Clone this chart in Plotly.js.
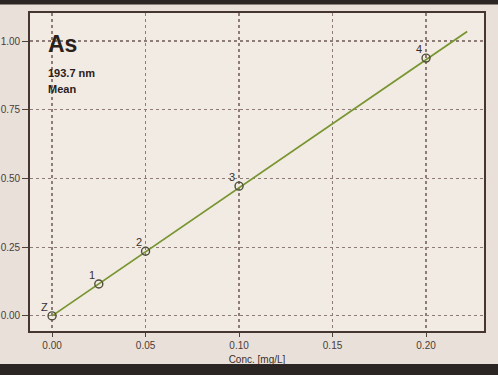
<!DOCTYPE html>
<html>
<head>
<meta charset="utf-8">
<script src="https://cdn.plot.ly/plotly-3.0.1.min.js"></script>
<style>
html,body{margin:0;padding:0;background:#e9e1d9;}
#chart{width:498px;height:375px;}
</style>
</head>
<body>
<div id="chart"></div>
<script>
// Calibration standards
const stdLabels = ["Z", "1", "2", "3", "4"];
const stdConc = [0.0, 0.025, 0.05, 0.10, 0.20];
const stdSignal = [0.0, 0.116, 0.235, 0.472, 0.938];
// Calibration line end points
const fitConc = [0.0, 0.222];
const fitSignal = [0.0, 1.035];
// Axis ticks
const xTicks = [0.00, 0.05, 0.10, 0.15, 0.20];
const xTickText = ["0.00", "0.05", "0.10", "0.15", "0.20"];
const yTicks = [0.00, 0.25, 0.50, 0.75, 1.00];
const yTickText = ["0.00", "0.25", "0.50", "0.75", "1.00"];

const FONT = "Liberation Sans, Arial, sans-serif";
const tickFont = {family: FONT, size: 10, color: "#4a3c37"};

const traces = [
  {
    x: fitConc, y: fitSignal, mode: "lines", type: "scatter",
    line: {color: "#789530", width: 1.8},
    hoverinfo: "skip", showlegend: false
  },
  {
    x: stdConc, y: stdSignal, mode: "markers", type: "scatter",
    marker: {symbol: "circle-open", size: 8, color: "#4f4d3a", line: {width: 1.4, color: "#4f4d3a"}},
    showlegend: false
  }
];

const pointLabels = stdLabels.map((t, i) => ({
  text: t, x: stdConc[i], y: stdSignal[i], xref: "x", yref: "y",
  xanchor: "right", yanchor: "bottom", xshift: -2, yshift: 1, showarrow: false,
  font: {family: FONT, size: 11, color: "#3a2e2a"}
}));

const layout = {
  width: 498, height: 375,
  margin: {l: 30, r: 14, t: 13, b: 44},
  paper_bgcolor: "#e9e1d9",
  plot_bgcolor: "#f1ebe3",
  showlegend: false,
  xaxis: {
    range: [-0.0118, 0.231],
    tickvals: xTicks, ticktext: xTickText,
    tickfont: tickFont,
    ticks: "outside", ticklen: 4, tickcolor: "#4e403b",
    showgrid: true, gridcolor: "#8d7d76", griddash: "3px,3px", gridwidth: 1.2,
    zeroline: false,
    showline: true, linecolor: "#463631", linewidth: 1.8, mirror: true,
    title: {text: "Conc. [mg/L]", font: {family: FONT, size: 10, color: "#3a2e2a"}, standoff: 6}
  },
  yaxis: {
    range: [-0.055, 1.102],
    tickvals: yTicks, ticktext: yTickText,
    tickfont: tickFont,
    ticks: "outside", ticklen: 6, tickcolor: "#4e403b",
    showgrid: true, gridcolor: "#8d7d76", griddash: "3px,3px", gridwidth: 1.2,
    zeroline: false,
    showline: true, linecolor: "#463631", linewidth: 1.8, mirror: true
  },
  annotations: [
    {text: "<b>As</b>", xref: "paper", yref: "paper", x: 0.036, y: 0.95, xanchor: "left", yanchor: "top",
     showarrow: false, font: {family: FONT, size: 23, color: "#2a201c"}},
    {text: "<b>193.7 nm</b>", xref: "paper", yref: "paper", x: 0.036, y: 0.838, xanchor: "left", yanchor: "top",
     showarrow: false, font: {family: FONT, size: 11, color: "#2a201c"}},
    {text: "<b>Mean</b>", xref: "paper", yref: "paper", x: 0.036, y: 0.785, xanchor: "left", yanchor: "top",
     showarrow: false, font: {family: FONT, size: 11, color: "#2a201c"}}
  ].concat(pointLabels),
  shapes: [
    {type: "rect", xref: "paper", yref: "paper", x0: -0.1, x1: 1.1, y0: -0.104, y1: -0.15,
     fillcolor: "#2b2523", line: {width: 0}, layer: "below"},
    {type: "rect", xref: "paper", yref: "paper", x0: -0.1, x1: 1.1, y0: 1.027, y1: 1.06,
     fillcolor: "#2b2523", line: {width: 0}, layer: "below"}
  ]
};

Plotly.newPlot("chart", traces, layout, {displayModeBar: false, staticPlot: true});
</script>
</body>
</html>
